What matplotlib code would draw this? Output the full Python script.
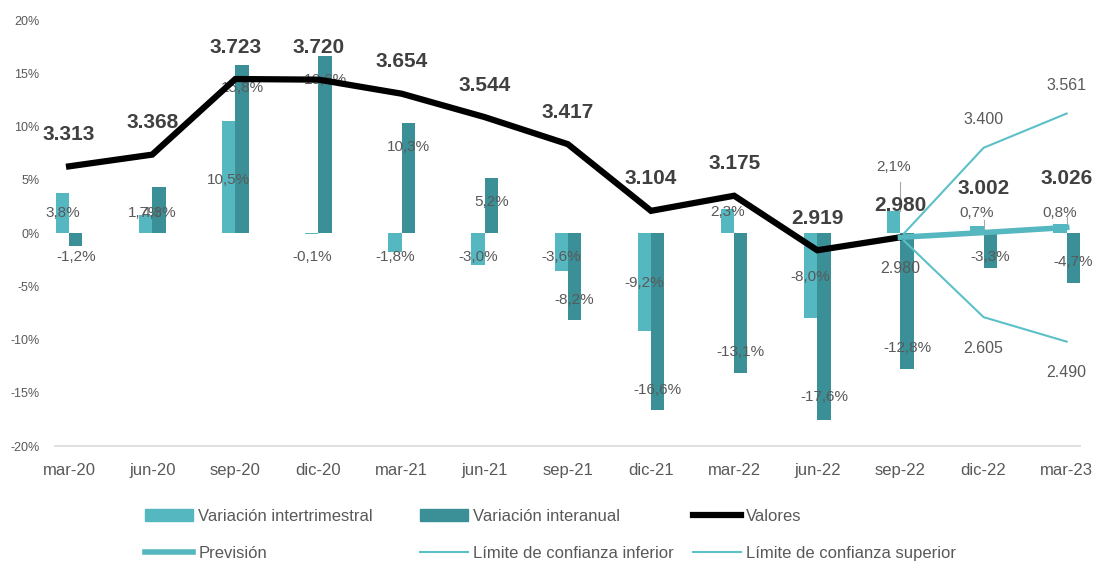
import numpy as np
import matplotlib
matplotlib.use("Agg")
import matplotlib.pyplot as plt
from matplotlib.patches import Patch
from matplotlib.lines import Line2D

plt.rcParams['font.family'] = ['Liberation Sans', 'DejaVu Sans']

# data
periods = ['mar-20', 'jun-20', 'sep-20', 'dic-20', 'mar-21', 'jun-21', 'sep-21',
           'dic-21', 'mar-22', 'jun-22', 'sep-22', 'dic-22', 'mar-23']
var_trim = [3.8, 1.7, 10.5, -0.1, -1.8, -3.0, -3.6, -9.2, 2.3, -8.0, 2.1, 0.7, 0.8]
var_anual = [-1.2, 4.3, 15.8, 16.6, 10.3, 5.2, -8.2, -16.6, -13.1, -17.6, -12.8, -3.3, -4.7]
valores = [3.313, 3.368, 3.723, 3.720, 3.654, 3.544, 3.417, 3.104, 3.175, 2.919, 2.980]
prevision = [2.980, 3.002, 3.026]
lim_inf = [2.980, 2.605, 2.490]
lim_sup = [2.980, 3.400, 3.561]

# where the excel labels ended up (in % units of the bar axis)
trim_label_y = [1.9, 1.9, 5.0, -2.25, -2.25, -2.25, -2.25, -4.7, 2.0, -4.1, 6.2, 1.9, 1.9]
anual_label_y = [-2.25, 1.9, 13.6, 14.4, 8.1, 2.9, -6.3, -14.7, -11.2, -15.4, -10.8, -2.3, -2.7]

c_trim = '#55b7c0'
c_anual = '#3b8f96'
c_prev = '#55b7c0'
c_lim = '#5cc0c8'
grey = '#595959'

x = np.arange(len(periods))
fx = x[len(valores) - 1:]
w = 0.16

fig = plt.figure(figsize=(10.99, 5.62), dpi=100)
ax = fig.add_axes([0.050, 0.2064, 0.9327, 0.758])

ax.bar(x - w / 2, var_trim, width=w, color=c_trim, zorder=2)
ax.bar(x + w / 2, var_anual, width=w, color=c_anual, zorder=2)

def pct(v):
    return ('%.1f%%' % v).replace('.', ',')

for i in range(len(x)):
    ax.text(x[i] - w / 2, trim_label_y[i], pct(var_trim[i]), ha='center', va='center',
            fontsize=11, color=grey, zorder=3)
    ax.text(x[i] + w / 2, anual_label_y[i], pct(var_anual[i]), ha='center', va='center',
            fontsize=11, color=grey, zorder=3)

# leader lines for the small forecast labels
for i, (y0, y1) in zip([10, 11, 12], [(4.8, 2.1), (1.2, 0.1), (1.5, 0.5)]):
    ax.plot([x[i] - w / 2 + 0.08, x[i] - w / 2 + 0.08], [y0, y1], color='#a6a6a6', lw=0.8, zorder=3)

ax.set_ylim(-20, 20)
ax.set_xlim(-0.17, 12.16)
ax.set_yticks(np.arange(-20, 21, 5))
ax.set_yticklabels(['%d%%' % t for t in np.arange(-20, 21, 5)], fontsize=9, color=grey)
ax.set_xticks(x)
ax.set_xticklabels(periods, fontsize=12, color=grey)
ax.tick_params(axis='both', length=0)
ax.tick_params(axis='x', pad=12)
ax.tick_params(axis='y', pad=11)
for s in ['top', 'right', 'left']:
    ax.spines[s].set_visible(False)
ax.spines['bottom'].set_color('#d9d9d9')
ax.spines['bottom'].set_linewidth(1.2)

ax2 = ax.twinx()
ax2.set_ylim(2.0, 4.0)
ax2.axis('off')
ax2.plot(x[:len(valores)], valores, color='black', lw=4.5, solid_joinstyle='miter', zorder=4)
ax2.plot(fx, prevision, color=c_prev, lw=4, zorder=4)
ax2.plot(fx, lim_inf, color=c_lim, lw=1.5, zorder=3)
ax2.plot(fx, lim_sup, color=c_lim, lw=1.5, zorder=3)

for i, v in enumerate(valores):
    ax2.annotate(('%.3f' % v), (x[i], v), xytext=(0, 32), textcoords='offset pixels',
                 ha='center', va='center', fontsize=15, fontweight='bold', color='#404040', zorder=5)
for i, v, off in zip(fx[1:], prevision[1:], [44, 49]):
    ax2.annotate(('%.3f' % v), (i, v), xytext=(0, off), textcoords='offset pixels',
                 ha='center', va='center', fontsize=15, fontweight='bold', color='#404040', zorder=5)
for i, v in zip(fx[1:], lim_sup[1:]):
    ax2.annotate(('%.3f' % v), (i, v), xytext=(0, 28), textcoords='offset pixels',
                 ha='center', va='center', fontsize=11.5, color=grey, zorder=5)
for i, v in zip(fx, lim_inf):
    ax2.annotate(('%.3f' % v), (i, v), xytext=(0, -31), textcoords='offset pixels',
                 ha='center', va='center', fontsize=11.5, color=grey, zorder=5)

# legend in three columns, placed like the excel one
cols = [
    ([Patch(color=c_trim), Line2D([], [], color=c_prev, lw=4)],
     ['Variación intertrimestral', 'Previsión'], 145),
    ([Patch(color=c_anual), Line2D([], [], color=c_lim, lw=1.5)],
     ['Variación interanual', 'Límite de confianza inferior'], 420),
    ([Line2D([], [], color='black', lw=4.5), Line2D([], [], color=c_lim, lw=1.5)],
     ['Valores', 'Límite de confianza superior'], 693),
]
for handles, labels, px in cols:
    leg = fig.legend(handles, labels, loc='center left', bbox_to_anchor=(px / 1099, 1 - 535 / 562),
                     frameon=False, fontsize=12, handlelength=2.9, handletextpad=0.3,
                     labelspacing=1.3, borderpad=0, borderaxespad=0)
    for t in leg.get_texts():
        t.set_color(grey)

fig.savefig('out.png', dpi=100)
